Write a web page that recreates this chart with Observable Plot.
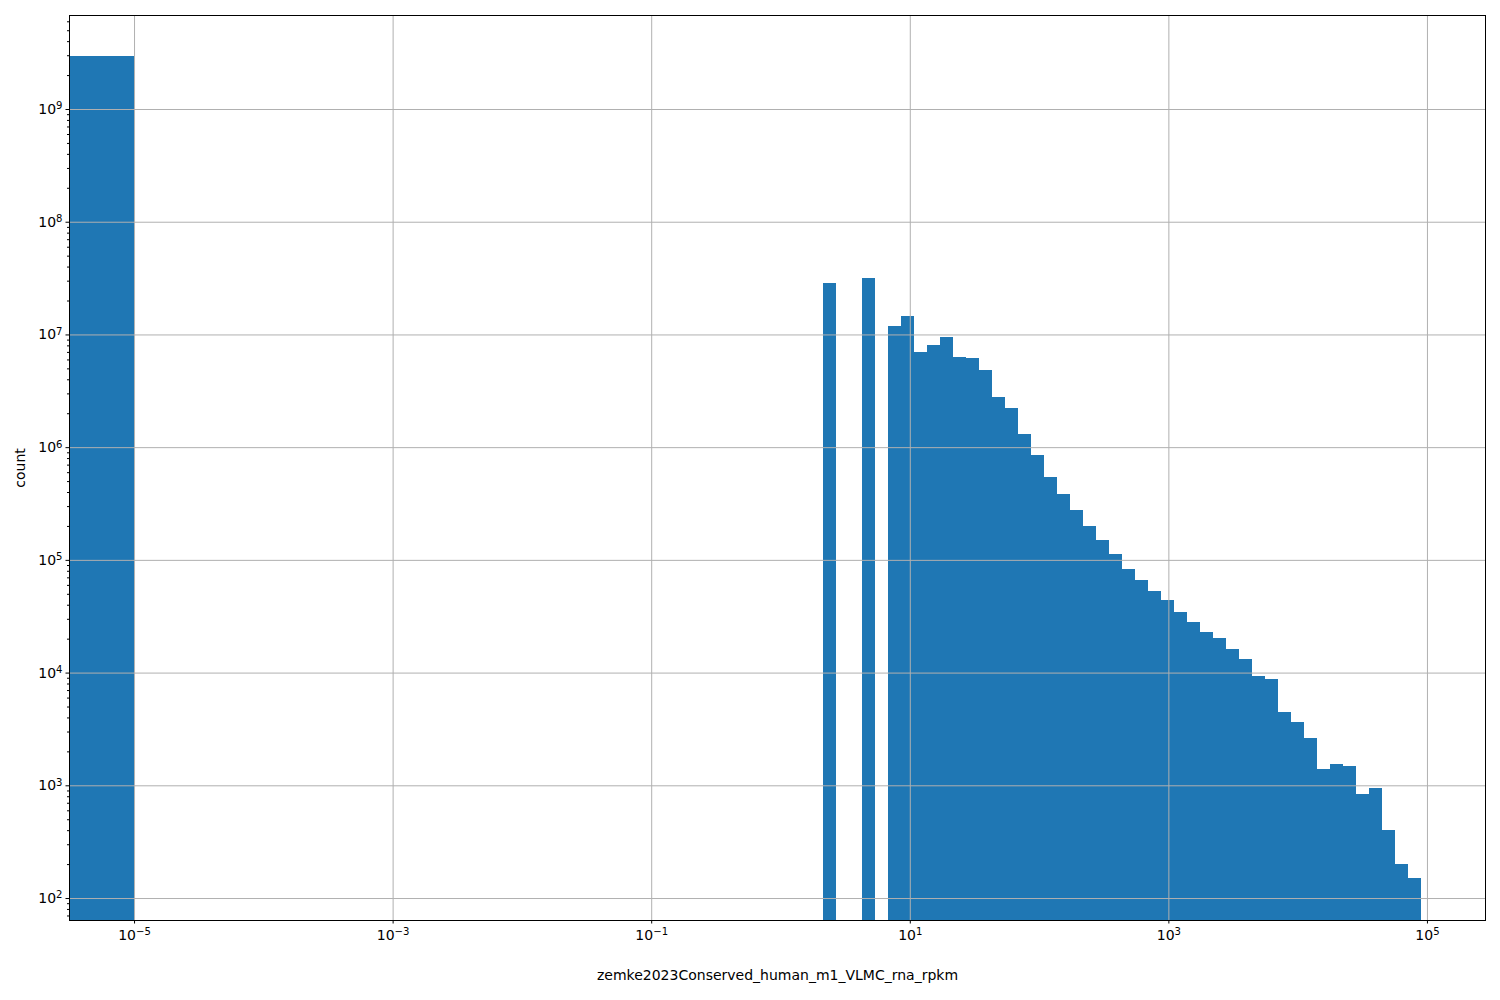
<!DOCTYPE html>
<html><head><meta charset="utf-8">
<script src="https://cdn.jsdelivr.net/npm/d3@7"></script>
<script src="https://cdn.jsdelivr.net/npm/@observablehq/plot@0.6"></script>
<style>
body{margin:0;background:#fff}
#chart svg{display:block}
</style>
</head><body><div id="chart"></div>
<script>
// Data (log-x, log-y)
const zeroBinEdges = [1e-6, 1e-5];     // bar at far left, extends beyond the axes
const zeroBinCount = 2.95e9;
const binLogStart = 0.329;            // log10 of the first regular bin's left edge
const binLogStep = 0.1005;            // bin width in decades
const binCounts = [
  2.86e7, 0, 0, 3.17e7, 0, 1.19e7, 1.46e7, 6.98e6, 8.05e6, 9.5e6,
  6.3e6, 6.18e6, 4.84e6, 2.79e6, 2.22e6, 1.31e6, 8.5e5, 5.43e5, 3.84e5, 2.77e5,
  2.0e5, 1.50e5, 1.13e5, 8.3e4, 6.63e4, 5.3e4, 4.41e4, 3.45e4, 2.81e4, 2.29e4,
  2.03e4, 1.62e4, 1.32e4, 9.33e3, 8.77e3, 4.47e3, 3.65e3, 2.63e3, 1.40e3, 1.55e3,
  1.48e3, 837, 947, 401, 200, 150
];
const xTickExponents = [-5, -3, -1, 1, 3, 5];
const yTickExponents = [2, 3, 4, 5, 6, 7, 8, 9];
const xDomainLog = [-5.503, 5.449];
const yDomainLog = [1.805, 9.834];
const xLabel = "zemke2023Conserved_human_m1_VLMC_rna_rpkm";
const yLabel = "count";

const bars = [{x1: zeroBinEdges[0], x2: zeroBinEdges[1], count: zeroBinCount}];
binCounts.forEach((c, i) => {
  if (c > 0) bars.push({
    x1: Math.pow(10, binLogStart + i * binLogStep),
    x2: Math.pow(10, binLogStart + (i + 1) * binLogStep),
    count: c
  });
});

const xTicks = xTickExponents.map(e => Math.pow(10, e));
const yTicks = yTickExponents.map(e => Math.pow(10, e));
const yMinor = [];
for (let e = 1; e <= 9; e++) for (let m = 2; m <= 9; m++) {
  const v = m * Math.pow(10, e);
  if (Math.log10(v) > yDomainLog[0] && Math.log10(v) < yDomainLog[1]) yMinor.push(v);
}
const expFmt = v => "10^" + Math.round(Math.log10(v));

const chart = Plot.plot({
  width: 1500,
  height: 1000,
  marginLeft: 69,
  marginRight: 15,
  marginTop: 15,
  marginBottom: 80,
  style: {fontFamily: "DejaVu Sans", fontSize: "14px", color: "#000", background: "#fff"},
  x: {type: "log", domain: xDomainLog.map(d => Math.pow(10, d))},
  y: {type: "log", domain: yDomainLog.map(d => Math.pow(10, d))},
  marks: [
    Plot.rect(bars, {x1: "x1", x2: "x2", y1: () => 1, y2: "count", fill: "#1f77b4", clip: true, shapeRendering: "crispEdges"}),
    Plot.gridX(xTicks, {stroke: "#b0b0b0", strokeOpacity: 1, strokeWidth: 1}),
    Plot.gridY(yTicks, {stroke: "#b0b0b0", strokeOpacity: 1, strokeWidth: 1}),
    Plot.frame({stroke: "#000", strokeWidth: 1}),
    Plot.axisY(yMinor, {tickSize: 2, tickFormat: () => "", label: null, stroke: "#000"}),
    Plot.axisY(yTicks, {tickSize: 3.5, tickPadding: 3.5, tickFormat: expFmt, label: yLabel, labelAnchor: "center", labelArrow: "none", labelOffset: 54, fontSize: 14}),
    Plot.axisX(xTicks, {tickSize: 3.5, tickPadding: 6, tickFormat: expFmt, label: xLabel, labelAnchor: "center", labelArrow: "none", labelOffset: 59, fontSize: 14})
  ]
});
document.getElementById("chart").appendChild(chart);

// Render "10^e" tick labels with real superscripts
chart.querySelectorAll("text").forEach(t => {
  const s = t.textContent;
  const m = /^10\^(-?\d+)$/.exec(s);
  if (!m) return;
  const exp = m[1].replace("-", "\u2212");
  while (t.firstChild) t.removeChild(t.firstChild);
  t.appendChild(document.createTextNode("10"));
  const sup = document.createElementNS("http://www.w3.org/2000/svg", "tspan");
  sup.setAttribute("dy", "-0.45em");
  sup.setAttribute("font-size", "0.72em");
  sup.textContent = exp;
  t.appendChild(sup);
});
</script>
</body></html>
